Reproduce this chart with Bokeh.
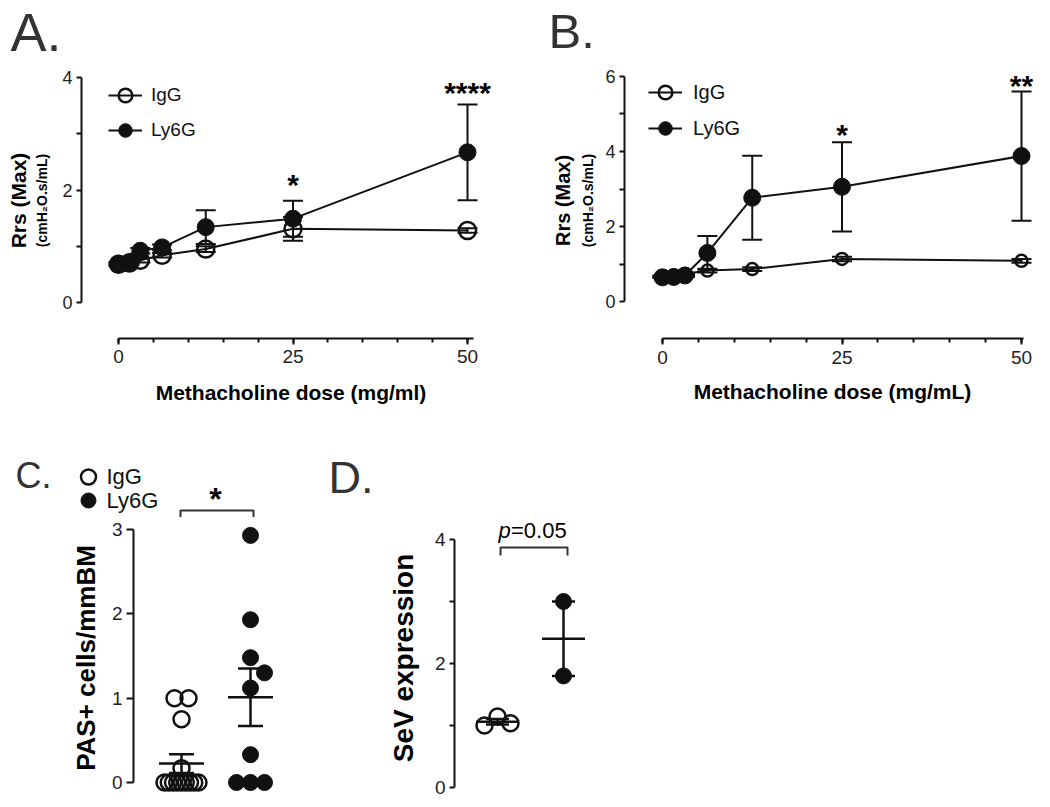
import numpy as np
from bokeh.plotting import figure
from bokeh.models import (ColumnDataSource, Whisker, TeeHead, FixedTicker,
                          LinearAxis, Label, Legend, LegendItem, Range1d)
from bokeh.layouts import column, row
from bokeh.embed import file_html
from bokeh.resources import INLINE

FONT = "Liberation Sans"
INK = "#111111"
TICK_INK = "#222222"
LETTER_INK = "#333333"

# ---------------- data ----------------
dose = [0, 1.5625, 3.125, 6.25, 12.5, 25, 50]

# Panel A
a_igg = [0.68, 0.70, 0.75, 0.84, 0.95, 1.31, 1.28]
a_igg_sem = [0.02, 0.03, 0.04, 0.04, 0.05, 0.21, 0.04]
a_ly6g = [0.69, 0.72, 0.92, 0.98, 1.34, 1.49, 2.67]
a_ly6g_sem = [0.03, 0.03, 0.05, 0.05, 0.30, 0.32, 0.85]
a_sig_dose = [25, 50]
a_sig_text = ["*", "****"]

# Panel B
b_igg = [0.68, 0.70, 0.74, 0.83, 0.87, 1.14, 1.09]
b_igg_sem = [0.02, 0.02, 0.03, 0.05, 0.05, 0.06, 0.05]
b_ly6g = [0.65, 0.66, 0.70, 1.30, 2.77, 3.06, 3.88]
b_ly6g_sem = [0.02, 0.03, 0.04, 0.45, 1.12, 1.19, 1.72]
b_sig_dose = [25, 50]
b_sig_text = ["*", "**"]

# Panel C (PAS+ cells/mmBM)
c_igg = [1.0, 1.0, 0.75, 0.17, 0, 0, 0, 0, 0, 0, 0, 0, 0]
c_ly6g = [2.93, 1.93, 1.48, 1.30, 1.12, 0.33, 0, 0, 0]
c_sig_text = "*"

# Panel D (SeV expression)
d_igg = [1.145, 1.037, 1.0]
d_ly6g = [3.0, 1.8]
d_sig_text = "=0.05"

groups = ["IgG", "Ly6G"]
group_pos = [1, 2]


# ---------------- layout helpers ----------------
class Scale:
    """Maps page pixels to data values for a panel (layout only)."""
    def __init__(self, v0, p0, v1, p1):
        self.v0, self.p0 = v0, p0
        self.k = (p1 - p0) / (v1 - v0)

    def val(self, px):
        return self.v0 + (px - self.p0) / self.k


class PixelScale(Scale):
    """Identity: data value = page pixel (y grows downwards when flip)."""
    def __init__(self, flip=False):
        self.v0, self.p0, self.k = 0.0, 0.0, (-1.0 if flip else 1.0)

    def val(self, px):
        return float(px)


def build(page_left, page_top, width, height, frame, xs, ys, has_x=False, has_y=False):
    L, R, T, B = frame
    p = figure(width=width, height=height,
               x_range=Range1d(xs.val(L), xs.val(R)),
               y_range=Range1d(ys.val(B), ys.val(T)),
               min_border_left=L - page_left, min_border_right=page_left + width - R,
               min_border_top=T - page_top, min_border_bottom=page_top + height - B,
               output_backend="svg", toolbar_location=None, title_location=None,
               x_axis_location="below" if has_x else None,
               y_axis_location="left" if has_y else None,
               background_fill_color="white", border_fill_color="white")
    p.outline_line_color = None
    p.grid.visible = False
    return p


def strip(page_left, page_top, width, height, xs=None):
    xs = xs if xs is not None else PixelScale()
    return build(page_left, page_top, width, height,
                 (page_left, page_left + width, page_top, page_top + height),
                 xs, PixelScale(flip=True))


def base_axis(ax, tick_size, tick_out, label_standoff):
    ax.axis_line_width = 2
    ax.axis_line_color = INK
    ax.major_tick_line_width = 2
    ax.major_tick_line_color = INK
    ax.major_tick_in = 0
    ax.major_tick_out = tick_out
    ax.minor_tick_line_width = 2
    ax.minor_tick_line_color = INK
    ax.minor_tick_in = 0
    ax.minor_tick_out = 4
    ax.major_label_text_font = FONT
    ax.major_label_text_font_size = tick_size
    ax.major_label_text_color = TICK_INK
    ax.major_label_standoff = label_standoff
    ax.axis_label_text_font = FONT
    ax.axis_label_text_font_style = "bold"
    ax.axis_label_text_color = "black"


def y_ticks(ax, ticks, labelled):
    ax.ticker = FixedTicker(ticks=ticks, minor_ticks=[])
    ax.major_label_overrides = {float(t): ("" if t not in labelled else str(t)) for t in ticks}


def outer_label_axis(p, text, size, standoff, bounds):
    ax = LinearAxis(axis_label=text, ticker=FixedTicker(ticks=[], minor_ticks=[]),
                    major_label_text_font_size="0px", axis_line_color=None,
                    major_tick_line_color=None, minor_tick_line_color=None,
                    major_tick_out=0, minor_tick_out=0, major_label_standoff=0,
                    axis_label_standoff=standoff, axis_label_text_font=FONT,
                    axis_label_text_font_style="bold", axis_label_text_font_size=size,
                    axis_label_text_color="black", bounds=bounds)
    p.add_layout(ax, "left")


def text_label(p, x, y, text, size, style="normal", align="left", color="black"):
    # y is the vertical middle of the text
    p.add_layout(Label(x=x, y=y, text=text, text_font=FONT, text_font_size=size,
                       text_font_style=style, text_align=align,
                       text_baseline="middle", text_color=color))


def swarm(values, kx, ky, diam, step, row_width):
    vals = np.asarray(values, float)
    offsets = np.zeros(len(vals))
    uniq, counts = np.unique(vals, return_counts=True)
    count_of = {u: c for u, c in zip(uniq, counts)}
    for u, c in zip(uniq, counts):
        if c > 1:
            idx = np.where(vals == u)[0]
            sp = min(step, row_width / (c - 1))
            offsets[idx] = (np.arange(c) - (c - 1) / 2) * sp
    placed = []
    for i in np.argsort(-vals, kind="stable"):
        if count_of[vals[i]] > 1:
            continue
        yi = vals[i] * abs(ky)
        chosen = 0
        for cand in [0, step, -step, 2 * step, -2 * step]:
            if all(np.hypot(cand - ox, yi - oy) >= diam for ox, oy in placed):
                chosen = cand
                break
        offsets[i] = chosen
        placed.append((chosen, yi))
    return offsets / abs(kx)


ROW1_TOP = 62


def dose_panel(page_left, width, frame, xs, ys, igg, igg_sem, ly, ly_sem, ymax, y_labelled,
               xlabel, sig_dose, sig_text, sig_mid_px, igg_size, leg,
               sub_standoff, main_standoff, main_size, xline_end_px, xtick_standoff, xlabel_standoff):
    p = build(page_left, ROW1_TOP, width, 420 - ROW1_TOP, frame, xs, ys, has_x=True, has_y=True)

    xa = p.xaxis[0]
    base_axis(xa, "19px", 6, xtick_standoff)
    xa.ticker = FixedTicker(ticks=[0, 25, 50], minor_ticks=list(range(0, 51, 5)))
    xa.bounds = (0, xs.val(xline_end_px))
    xa.axis_label = xlabel
    xa.axis_label_text_font_size = "21px"
    xa.axis_label_standoff = xlabel_standoff

    ya = p.yaxis[0]
    base_axis(ya, "18px", 5, 4)
    y_ticks(ya, list(range(0, ymax + 1)), y_labelled)
    ya.bounds = (0, ymax)
    ya.axis_label = "(cmH\u2082O.s/mL)"
    ya.axis_label_text_font_size = "14px"
    ya.axis_label_standoff = sub_standoff
    outer_label_axis(p, "Rrs (Max)", main_size, main_standoff, (0, ymax))

    for vals, sem in [(ly, ly_sem), (igg, igg_sem)]:
        src = ColumnDataSource(dict(x=dose,
                                    upper=[v + s for v, s in zip(vals, sem)],
                                    lower=[v - s for v, s in zip(vals, sem)]))
        p.add_layout(Whisker(source=src, base="x", upper="upper", lower="lower",
                             line_width=2, line_color=INK,
                             upper_head=TeeHead(size=20, line_width=2, line_color=INK),
                             lower_head=TeeHead(size=20, line_width=2, line_color=INK)))

    l_ly = p.line(dose, ly, line_width=2, line_color=INK)
    l_ig = p.line(dose, igg, line_width=2, line_color=INK)
    s_ly = p.scatter(dose, ly, marker="circle", size=17, fill_color=INK, line_color=INK)
    s_ig = p.scatter(dose, igg, marker="circle", size=igg_size, fill_color=None,
                     line_color=INK, line_width=2.5)

    # legend: glyph column starts at leg["left"] px, first row centred at leg["row1"] px
    gh = 34
    leg_h = 2 * gh + leg["spacing"]
    L, R, T, B = frame
    legend = Legend(items=[LegendItem(label="IgG", renderers=[l_ig, s_ig]),
                           LegendItem(label="Ly6G", renderers=[l_ly, s_ly])],
                    location=(leg["left"] - L, B - (leg["row1"] - gh / 2) - leg_h),
                    margin=0, padding=0,
                    border_line_color=None, background_fill_alpha=0,
                    label_text_font=FONT, label_text_font_size=leg["font"],
                    label_text_color=INK, glyph_width=gh, glyph_height=gh, label_height=gh,
                    label_standoff=leg["standoff"], spacing=leg["spacing"])
    p.add_layout(legend)

    for d, t, mpx in zip(sig_dose, sig_text, sig_mid_px):
        text_label(p, d, ys.val(mpx), t, "30px", style="bold", align="center")
    return p


# ---------------- Panel A ----------------
AX = Scale(0, 118, 50, 467)
AY = Scale(0, 302, 4, 77)
pa = dose_panel(0, 528, (81, 500, ROW1_TOP, 338), AX, AY, a_igg, a_igg_sem, a_ly6g, a_ly6g_sem, 4,
                [0, 2, 4], "Methacholine dose (mg/ml)", a_sig_dose, a_sig_text, [183.5, 91.5],
                17, dict(left=108, row1=95, font="19px", standoff=9, spacing=1),
                9, 2, "21px", 473, 5, 15)
sa = strip(0, 0, 528, ROW1_TOP)
text_label(sa, 10, 31, "A.", "54px", color=LETTER_INK)

# ---------------- Panel B ----------------
BX = Scale(0, 662, 50, 1021)
BY = Scale(0, 303, 6, 76)
pb = dose_panel(528, 520, (624, 1040, ROW1_TOP, 340), BX, BY, b_igg, b_igg_sem, b_ly6g, b_ly6g_sem, 6,
                [0, 2, 4, 6], "Methacholine dose (mg/mL)", b_sig_dose, b_sig_text, [134.5, 85.5],
                12, dict(left=648, row1=94, font="20px", standoff=11, spacing=2),
                6, 4, "20px", 1023, 6, 13)
sb = strip(528, 0, 520, ROW1_TOP)
text_label(sb, 548, 30, "B.", "49px", color=LETTER_INK)

# ---------------- Panel C ----------------
CX = Scale(1, 181, 2, 250)
CY = Scale(0, 782, 3, 529)
pc = build(0, 517, 322, 288, (133, 310, 517, 798), CX, CY, has_y=True)
yc = pc.yaxis[0]
base_axis(yc, "19px", 7, 4)
y_ticks(yc, [0, 1, 2, 3], [0, 1, 2, 3])
yc.bounds = (0, 3)
yc.axis_label = "PAS+ cells/mmBM"
yc.axis_label_text_font_size = "26px"
yc.axis_label_standoff = 8

c_sets = [c_igg, c_ly6g]
for pos, vals, filled in zip(group_pos, c_sets, [False, True]):
    xo = swarm(vals, CX.k, CY.k, diam=16, step=14, row_width=34)
    pc.scatter([pos + o for o in xo], vals, marker="circle", size=16,
               fill_color=INK if filled else None, line_color=INK,
               line_width=1 if filled else 2.5)

c_mean = [float(np.mean(v)) for v in c_sets]
c_sem = [float(np.std(v, ddof=1) / np.sqrt(len(v))) for v in c_sets]
c_src = ColumnDataSource(dict(x=group_pos, upper=[m + s for m, s in zip(c_mean, c_sem)],
                              lower=[m - s for m, s in zip(c_mean, c_sem)]))
pc.add_layout(Whisker(source=c_src, base="x", upper="upper", lower="lower", level="annotation",
                      line_width=2.5, line_color=INK,
                      upper_head=TeeHead(size=25, line_width=2.5, line_color=INK),
                      lower_head=TeeHead(size=25, line_width=2.5, line_color=INK)))
pc.scatter(group_pos, c_mean, marker="dash", size=45, line_width=2.5, line_color=INK)

# strip above C: letter, key, significance bracket (x shares C's group scale)
sc = strip(0, 420, 322, 97, xs=CX)
text_label(sc, CX.val(15), 474.5, "C.", "36px", color=LETTER_INK)
sc.scatter([CX.val(88)], [476.5], marker="circle", size=15, fill_color=None,
           line_color=INK, line_width=2.5)
sc.scatter([CX.val(88)], [500], marker="circle", size=15, fill_color=INK, line_color=INK)
for g, mid in zip(groups, [475.5, 499.5]):
    text_label(sc, CX.val(106), mid, g, "22px", color=INK)
sc.line([CX.val(180), CX.val(180), CX.val(253), CX.val(253)], [517, 510, 510, 517],
        line_width=2, line_color="#333333")
text_label(sc, CX.val(215), 498, c_sig_text, "32px", style="bold", align="center")

# ---------------- Panel D ----------------
DX = Scale(1, 497, 2, 563)
DY = Scale(0, 787, 4, 539)
pd_ = build(322, 517, 298, 288, (454, 600, 517, 798), DX, DY, has_y=True)
yd = pd_.yaxis[0]
base_axis(yd, "19px", 5, 4)
y_ticks(yd, [0, 1, 2, 3, 4], [0, 2, 4])
yd.bounds = (0, 4)
yd.axis_label = "SeV expression"
yd.axis_label_text_font_size = "28px"
yd.axis_label_standoff = 13

d_sets = [d_igg, d_ly6g]
for pos, vals, filled in zip(group_pos, d_sets, [False, True]):
    xo = swarm(vals, DX.k, DY.k, diam=14, step=13, row_width=30)
    pd_.scatter([pos + o for o in xo], vals, marker="circle", size=16,
                fill_color=INK if filled else None, line_color=INK,
                line_width=1 if filled else 2.5)

d_mean = [float(np.mean(v)) for v in d_sets]
d_sem = [float(np.std(v, ddof=1) / np.sqrt(len(v))) for v in d_sets]
d_src = ColumnDataSource(dict(x=group_pos, upper=[m + s for m, s in zip(d_mean, d_sem)],
                              lower=[m - s for m, s in zip(d_mean, d_sem)]))
pd_.add_layout(Whisker(source=d_src, base="x", upper="upper", lower="lower", level="annotation",
                       line_width=2.5, line_color=INK,
                       upper_head=TeeHead(size=23, line_width=2.5, line_color=INK),
                       lower_head=TeeHead(size=23, line_width=2.5, line_color=INK)))
pd_.scatter(group_pos, d_mean, marker="dash", size=43, line_width=2.5, line_color=INK)

pd_.line([DX.val(500), DX.val(500), DX.val(567), DX.val(567)],
         [DY.val(555), DY.val(547), DY.val(547), DY.val(555)], line_width=2, line_color="#333333")
text_label(pd_, DX.val(498), DY.val(530), "p", "22px", style="italic")
text_label(pd_, DX.val(510.5), DY.val(530), d_sig_text, "22px")

sd = strip(322, 420, 298, 97)
text_label(sd, 328, 476.5, "D.", "45px", color=LETTER_INK)

layout = column(row(sa, sb), row(pa, pb), row(sc, sd), row(pc, pd_))
open("out.html", "w").write(file_html(layout, INLINE))
